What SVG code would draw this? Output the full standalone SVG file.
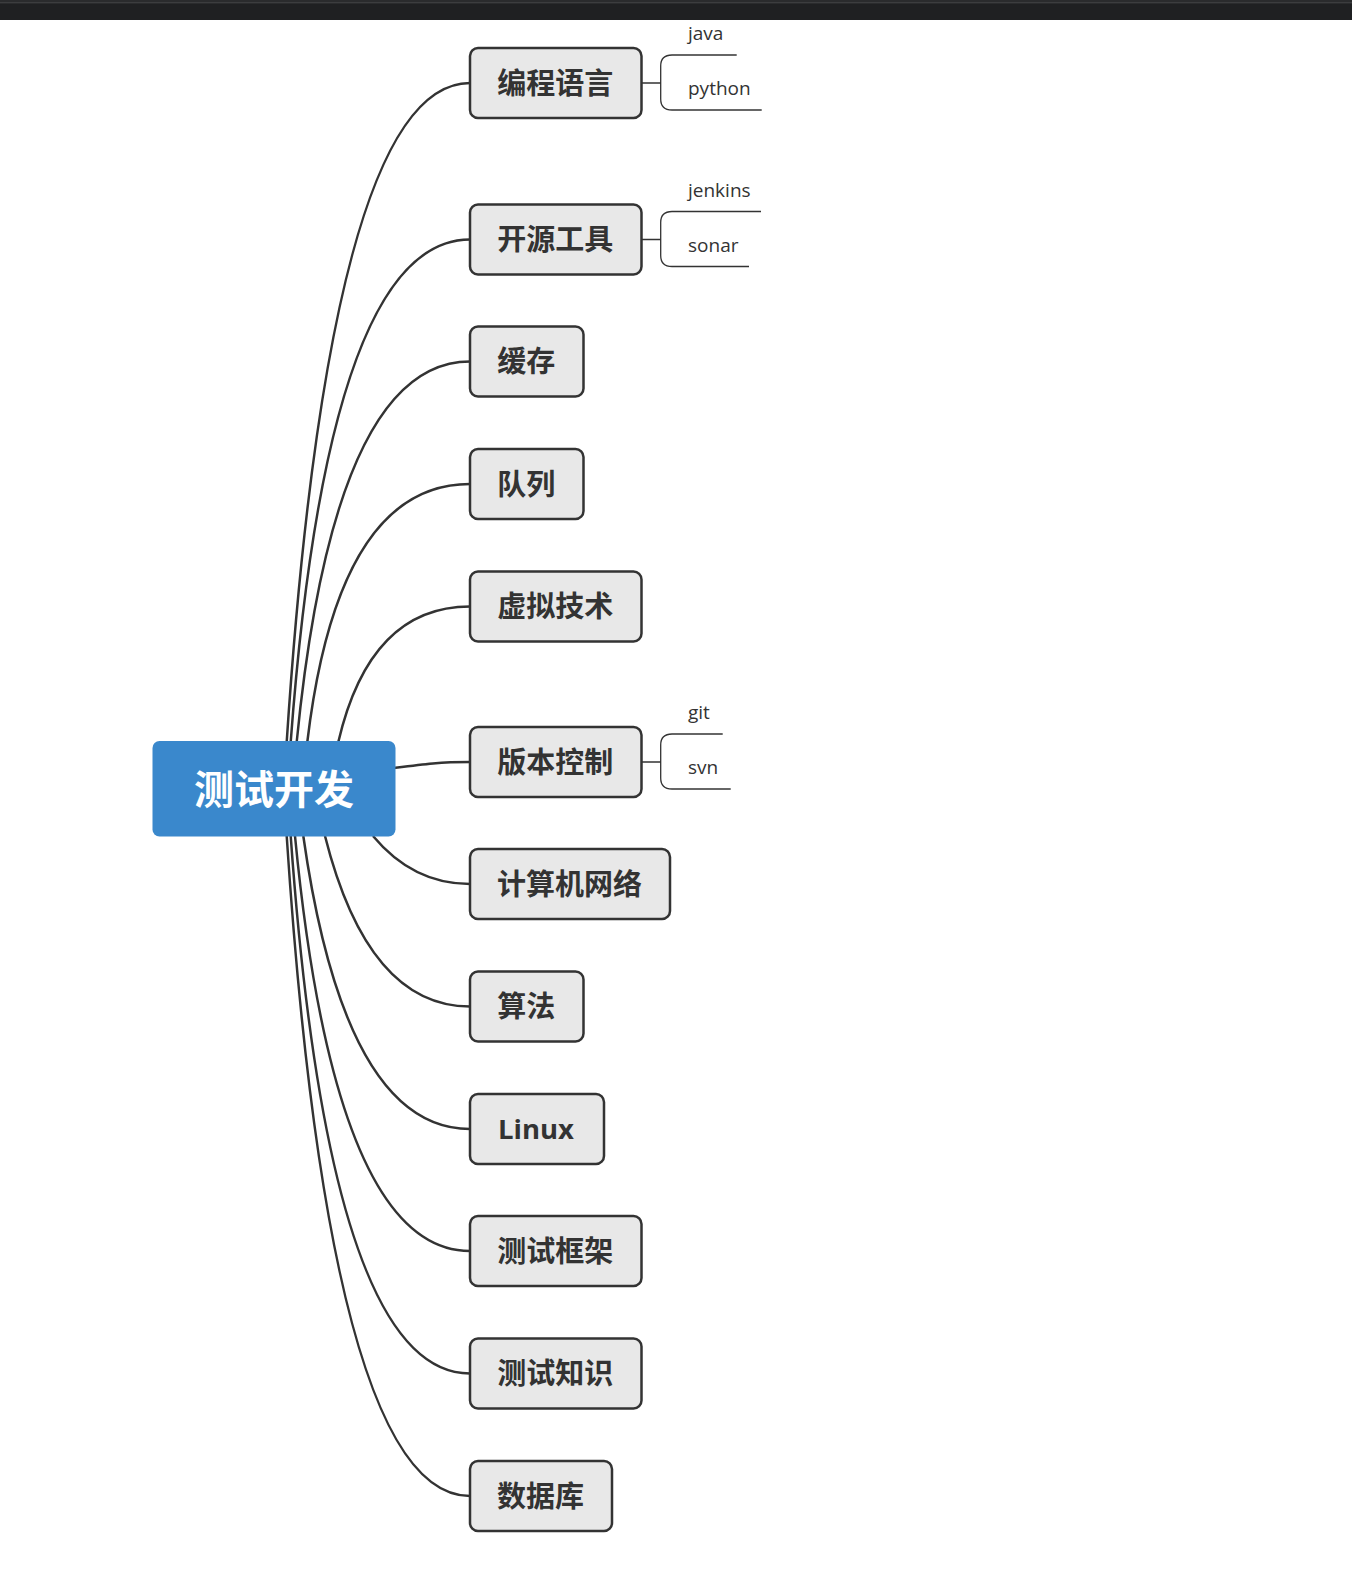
<svg xmlns="http://www.w3.org/2000/svg" width="1352" height="1594" viewBox="0 0 1352 1594">
<style>
.bg{fill:#ffffff}
.conn{fill:none;stroke:#333333;stroke-width:2.5}
.sub{fill:none;stroke:#333333;stroke-width:1.3}
.box{fill:#e8e8e8;stroke:#333333;stroke-width:2.5}
.lbl{font-family:"Open Sans","Noto Sans CJK SC",sans-serif;font-size:29px;font-weight:700;fill:#333333;text-anchor:middle}
.lat{font-size:27.5px}
.leaf{font-family:"Open Sans","Noto Sans CJK SC",sans-serif;font-size:19px;fill:#333333}
.root{fill:#3a88cc}
.rootlbl{font-family:"Noto Sans CJK SC",sans-serif;font-size:40px;font-weight:700;fill:#ffffff;text-anchor:middle}
</style>
<rect class="bg" x="0" y="0" width="1352" height="1594"/>
<rect x="0" y="0" width="1352" height="20" fill="#1f2022"/>
<rect x="0" y="0" width="1352" height="4" fill="#2a2b2d"/>
<line x1="0" y1="2.5" x2="1352" y2="2.5" stroke="#3c3d3f" stroke-width="1"/>

<g id="connectors">
  <path class="conn" d="M286.7,742 Q330,83 470,83"/>
  <path class="conn" d="M290.7,742 Q328,239.5 470,239.5"/>
  <path class="conn" d="M296.7,742 Q334,361.5 470,361.5"/>
  <path class="conn" d="M307.3,742 Q338,484 470,484"/>
  <path class="conn" d="M338.3,742 Q370,606.5 470,606.5"/>
  <path class="conn" d="M394,768 C425,764 440,762 470,762"/>
  <path class="conn" d="M373,836 Q413,884 470,884"/>
  <path class="conn" d="M325,836 Q368,1006.5 470,1006.5"/>
  <path class="conn" d="M303.3,836 Q345,1129 470,1129"/>
  <path class="conn" d="M295,836 Q335,1251 470,1251"/>
  <path class="conn" d="M290.7,836 Q329,1373.5 470,1373.5"/>
  <path class="conn" d="M286.7,836 Q330,1496 470,1496"/>
  <path class="sub" d="M641.5,83 H660.7 M672,55 Q660.7,55 660.7,66 V99 Q660.7,110 672,110"/>
  <path class="sub" d="M641.5,239.5 H660.7 M672,211.5 Q660.7,211.5 660.7,222.5 V255.5 Q660.7,266.5 672,266.5"/>
  <path class="sub" d="M641.5,762 H660.7 M672,734 Q660.7,734 660.7,745 V778 Q660.7,789 672,789"/>
</g>

<g id="root">
  <rect class="root" x="152.5" y="741" width="243" height="95.6" rx="7"/>
  <text class="rootlbl" x="274" y="804">测试开发</text>
</g>

<g id="n1"><rect class="box" x="470" y="48" width="171.5" height="70" rx="8"/><text class="lbl" x="555.2" y="93.5">编程语言</text></g>
<g id="n2"><rect class="box" x="470" y="204.5" width="171.5" height="70" rx="8"/><text class="lbl" x="555.2" y="250">开源工具</text></g>
<g id="n3"><rect class="box" x="470" y="326.5" width="113.5" height="70" rx="8"/><text class="lbl" x="526.2" y="372">缓存</text></g>
<g id="n4"><rect class="box" x="470" y="449" width="113.5" height="70" rx="8"/><text class="lbl" x="526.2" y="494.5">队列</text></g>
<g id="n5"><rect class="box" x="470" y="571.5" width="171.5" height="70" rx="8"/><text class="lbl" x="555.2" y="617">虚拟技术</text></g>
<g id="n6"><rect class="box" x="470" y="727" width="171.5" height="70" rx="8"/><text class="lbl" x="555.2" y="772.5">版本控制</text></g>
<g id="n7"><rect class="box" x="470" y="849" width="200" height="70" rx="8"/><text class="lbl" x="569.5" y="894.5">计算机网络</text></g>
<g id="n8"><rect class="box" x="470" y="971.5" width="113.5" height="70" rx="8"/><text class="lbl" x="526.2" y="1017">算法</text></g>
<g id="n9"><rect class="box" x="470" y="1094" width="134" height="70" rx="8"/><text class="lbl lat" x="536" y="1139">Linux</text></g>
<g id="n10"><rect class="box" x="470" y="1216" width="171.5" height="70" rx="8"/><text class="lbl" x="555.2" y="1261.5">测试框架</text></g>
<g id="n11"><rect class="box" x="470" y="1338.5" width="171.5" height="70" rx="8"/><text class="lbl" x="555.2" y="1384">测试知识</text></g>
<g id="n12"><rect class="box" x="470" y="1461" width="142" height="70" rx="8"/><text class="lbl" x="540.5" y="1506.5">数据库</text></g>

<g id="leaf-java"><line class="sub" x1="672" y1="55" x2="736.7" y2="55"/><text class="leaf" x="688" y="40">java</text></g>
<g id="leaf-python"><line class="sub" x1="672" y1="110" x2="761.7" y2="110"/><text class="leaf" x="688" y="95">python</text></g>
<g id="leaf-jenkins"><line class="sub" x1="672" y1="211.5" x2="761" y2="211.5"/><text class="leaf" x="688" y="196.5">jenkins</text></g>
<g id="leaf-sonar"><line class="sub" x1="672" y1="266.5" x2="749" y2="266.5"/><text class="leaf" x="688" y="251.5">sonar</text></g>
<g id="leaf-git"><line class="sub" x1="672" y1="734" x2="722.7" y2="734"/><text class="leaf" x="688" y="719">git</text></g>
<g id="leaf-svn"><line class="sub" x1="672" y1="789" x2="730.7" y2="789"/><text class="leaf" x="688" y="774">svn</text></g>
</svg>
